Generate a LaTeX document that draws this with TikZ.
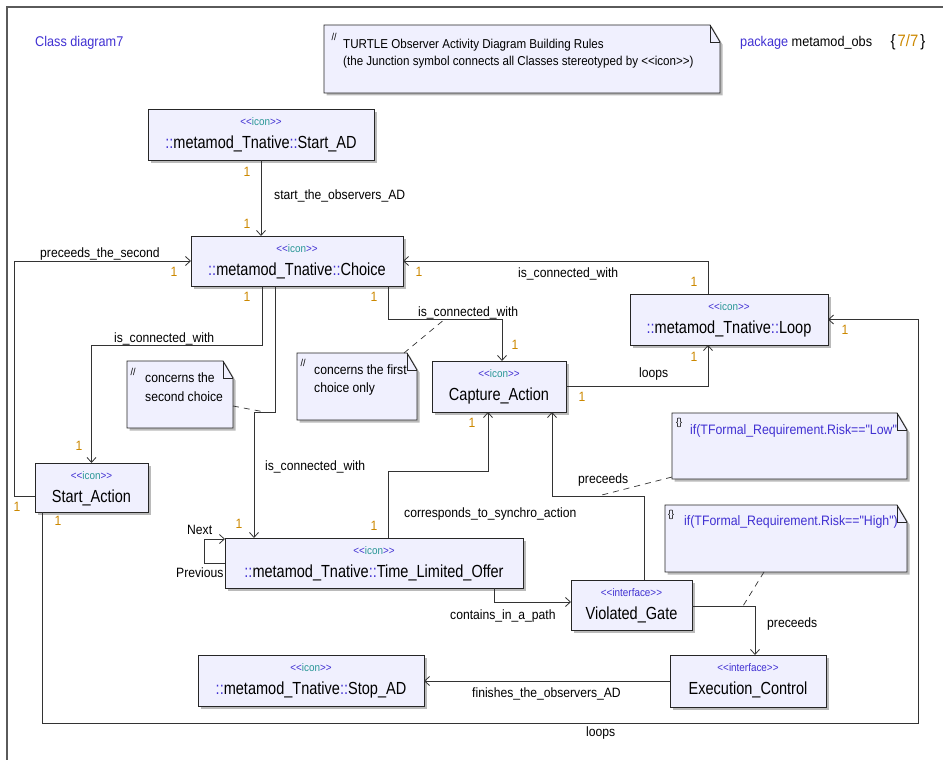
\documentclass[tikz,border=0pt]{standalone}
\usepackage{fontspec}
\setmainfont{Liberation Sans}
\newfontfamily\nf[FakeStretch=0.9]{Liberation Sans}
\newfontfamily\cnf[FakeStretch=0.83]{Liberation Sans}
\usetikzlibrary{arrows.meta,shadows,fit,calc}
\definecolor{boxfill}{RGB}{240,240,254}
\definecolor{umlblue}{RGB}{64,48,210}
\definecolor{umlteal}{RGB}{40,150,150}
\definecolor{multc}{RGB}{204,136,0}
\definecolor{framec}{RGB}{90,90,90}
\newcommand\stlt{<\kern0pt<}
\newcommand\stgt{>\kern0pt>}
\newcommand\stico{{\color{umlblue}\stlt}{\color{umlteal}icon}{\color{umlblue}\stgt}}
\newcommand\stiface{{\color{umlblue}\stlt interface\stgt}}
\newcommand\nsep{{\color{umlblue}::}}
\tikzset{
  shad/.style={drop shadow={shadow xshift=2.5pt,shadow yshift=-2.5pt,fill=black!45,opacity=0.6}},
  cls/.style={draw=black!85,line width=0.9pt,fill=boxfill,inner sep=0pt,outer sep=0pt,shad},
  stereo/.style={font=\nf\fontsize{11}{12}\selectfont,anchor=base,inner sep=0pt},
  clsname/.style={font=\cnf\fontsize{17.5}{19}\selectfont,anchor=base,inner sep=0pt},
  assoc/.style={draw=black!80,line width=0.8pt,-{Straight Barb[length=5pt,width=9pt]}},
  lbl/.style={font=\nf\fontsize{13.5}{15}\selectfont,anchor=base west,inner sep=0pt},
  mult/.style={font=\nf\fontsize{13.5}{15}\selectfont,text=multc,inner sep=0pt},
  note/.style={draw=black!85,line width=0.9pt,fill=boxfill,shad},
  notefold/.style={draw=black!85,line width=0.9pt},
  notetxt/.style={font=\nf\fontsize{13.5}{15}\selectfont,anchor=base west,inner sep=0pt},
  noteconst/.style={font=\nf\fontsize{13.7}{15}\selectfont,anchor=base west,inner sep=0pt,text=umlblue},
  notemark/.style={font=\nf\fontsize{10}{11}\selectfont,inner sep=0pt},
  anchorline/.style={draw=black!80,line width=0.7pt,dash pattern=on 6pt off 5pt},
  frameline/.style={draw=framec,line width=1.4pt}
}
\newcommand\umlclass[7]{%
  \coordinate (#1-a) at (#2,#3); \coordinate (#1-b) at (#4,#5);
  \node[cls,fit=(#1-a)(#1-b)] (#1) {};
  \node[stereo] (#1-st) at ([yshift=-16pt]#1.north) {#6};
  \node[clsname] (#1-nm) at ([yshift=-39pt]#1.north) {#7};
}
\newcommand\umlnote[5]{%
  \coordinate (#1-a) at (#2,#3); \coordinate (#1-b) at (#4,#5);
  \node[fit=(#1-a)(#1-b),inner sep=0pt,outer sep=0pt] (#1) {};
  \path[note] (#1.north west) -- ([xshift=-10pt]#1.north east) -- ([yshift=-17pt]#1.north east) -- (#1.south east) -- (#1.south west) -- cycle;
  \draw[notefold] ([xshift=-10pt]#1.north east) |- ([yshift=-17pt]#1.north east);
}
\begin{document}
\begin{tikzpicture}[x=1pt,y=-1pt]
\useasboundingbox (0,0) rectangle (943,760);
% frame
\coordinate (fr-tl) at (7,7);
\draw[frameline] (7,760) -- (fr-tl) -- (943,7);
\node[font=\nf\fontsize{14.1}{16}\selectfont,text=umlblue,anchor=base west,inner sep=0pt] (title) at (35,47) {Class diagram7};
\node[font=\nf\fontsize{14.1}{16}\selectfont,anchor=base west,inner sep=0pt] (pkg) at (740,47) {{\color{umlblue}package} metamod\_obs};
\node[font=\nf\fontsize{16.5}{18}\selectfont,anchor=base,inner sep=0pt] (pnum) at (908,47) {\{\hspace{2pt}{\color{multc}7/7}\hspace{2pt}\}};

% notes
\umlnote{topnote}{324}{25}{720}{93}
\node[notemark] (topnote-m) at (334,37) {//};
\node[notetxt,font=\nf\fontsize{12.9}{14}\selectfont] (topnote-t1) at (343,49) {TURTLE Observer Activity Diagram Building Rules};
\node[notetxt,font=\nf\fontsize{12.9}{14}\selectfont] (topnote-t2) at (343,66) {(the Junction symbol connects all Classes stereotyped by \stlt icon\stgt)};

\umlnote{note1}{297}{353}{417}{420}
\node[notemark] (note1-m) at (303,363) {//};
\node[notetxt] (note1-t1) at (314,374) {concerns the first};
\node[notetxt] (note1-t2) at (314,392) {choice only};

\umlnote{note2}{127}{361}{233}{428}
\node[notemark] (note2-m) at (133,372) {//};
\node[notetxt] (note2-t1) at (145,382) {concerns the};
\node[notetxt] (note2-t2) at (145,401) {second choice};

\umlnote{notelow}{672}{413}{907}{479}
\node[notemark] (notelow-m) at (679,423) {\{\}};
\node[noteconst] (notelow-t) at (690,434) {if(TFormal\_Requirement.Risk=="Low"};

\umlnote{notehigh}{665}{505}{907}{572}
\node[notemark] (notehigh-m) at (671,515) {\{\}};
\node[noteconst] (notehigh-t) at (684,525) {if(TFormal\_Requirement.Risk=="High")};

% classes
\umlclass{startad}{148}{109}{374}{160}{\stico}{\nsep metamod\_Tnative\nsep Start\_AD}
\umlclass{choice}{191}{236}{403}{286}{\stico}{\nsep metamod\_Tnative\nsep Choice}
\umlclass{loop}{630}{294}{828}{345}{\stico}{\nsep metamod\_Tnative\nsep Loop}
\umlclass{capture}{432}{361}{566}{412}{\stico}{Capture\_Action}
\umlclass{startact}{35}{463}{148}{512}{\stico}{Start\_Action}
\umlclass{tlo}{225}{538}{523}{588}{\stico}{\nsep metamod\_Tnative\nsep Time\_Limited\_Offer}
\umlclass{vgate}{571}{580}{692}{630}{\stiface}{Violated\_Gate}
\umlclass{exec}{670}{655}{826}{707}{\stiface}{Execution\_Control}
\umlclass{stopad}{198}{655}{424}{706}{\stico}{\nsep metamod\_Tnative\nsep Stop\_AD}

% bend coordinates
\coordinate (k5) at (254,412);
\coordinate (k6) at (502,319);
\coordinate (k8) at (918,723);
\coordinate (k9) at (488,471);
\coordinate (k11) at (552,496);

% connectors
\draw[assoc] (startad.south) -- (startad.south |- choice.north);
\draw[assoc] ([yshift=-8.5pt]startact.west) -| (14,261) -- (choice.west);
\draw[assoc] ([xshift=-21pt]loop.north) |- (choice.east);
\draw[assoc] ([xshift=-35pt]choice.south) |- ([yshift=118pt]startact.north) -- (startact.north);
\draw[assoc] ([xshift=-22pt]choice.south) |- (k5) -- (k5 |- tlo.north);
\draw[assoc] ([xshift=91pt]choice.south) |- (k6) -- (k6 |- capture.north);
\draw[assoc] (capture.east) -| ([xshift=-21pt]loop.south);
\draw[assoc] ([xshift=-49.5pt]startact.south) |- (k8) |- (loop.east);
\draw[assoc] ([xshift=14pt]tlo.north) |- (k9) -- (k9 |- capture.south);
\draw[assoc] (tlo.west) -- ++(-21,0) |- ([yshift=24pt]tlo.west);
\draw[assoc] ([xshift=12.5pt]vgate.north) |- (k11) -- (k11 |- capture.south);
\draw[assoc] ([xshift=120pt]tlo.south) |- ([yshift=3pt]vgate.west);
\draw[assoc] ([yshift=-1pt]vgate.east) -| ([xshift=7pt]exec.north);
\draw[assoc] (exec.west) -- (exec.west -| stopad.east);

% note anchors
\coordinate (d1) at (445,319);
\coordinate (d2) at (262,411.5);
\coordinate (d3) at (598,496);
\coordinate (d4) at (743,606);
\draw[anchorline] ([xshift=47pt]note1.north) -- (d1);
\draw[anchorline] ([yshift=-11.5pt]note2.east) -- (d2);
\draw[anchorline] ([yshift=2pt]notelow.south west) -- (d3);
\draw[anchorline] ([xshift=-22pt]notehigh.south) -- (d4);

% labels
\node[lbl] (l1) at (274,199) {start\_the\_observers\_AD};
\node[lbl] (l2) at (40,257) {preceeds\_the\_second};
\node[lbl] (l3) at (518,277) {is\_connected\_with};
\node[lbl] (l4) at (114,342) {is\_connected\_with};
\node[lbl] (l5) at (418,316) {is\_connected\_with};
\node[lbl] (l6) at (265,470) {is\_connected\_with};
\node[lbl] (l7) at (639,377) {loops};
\node[lbl] (l8) at (586,736) {loops};
\node[lbl] (l9) at (404,517) {corresponds\_to\_synchro\_action};
\node[lbl] (l10) at (578,483) {preceeds};
\node[lbl] (l11) at (450,619) {contains\_in\_a\_path};
\node[lbl] (l12) at (767,627) {preceeds};
\node[lbl] (l13) at (472,697) {finishes\_the\_observers\_AD};
\node[lbl] (l14) at (187,534) {Next};
\node[lbl] (l15) at (176,577) {Previous};

% multiplicities
\node[mult] (m1) at (247,172) {1};
\node[mult] (m2) at (247,224) {1};
\node[mult] (m3) at (174,272) {1};
\node[mult] (m4) at (419,272) {1};
\node[mult] (m5) at (247,297) {1};
\node[mult] (m6) at (374,297) {1};
\node[mult] (m7) at (694,282) {1};
\node[mult] (m8) at (515,345) {1};
\node[mult] (m9) at (694,357) {1};
\node[mult] (m10) at (582,397) {1};
\node[mult] (m11) at (845,330) {1};
\node[mult] (m12) at (79,446) {1};
\node[mult] (m13) at (17,507) {1};
\node[mult] (m14) at (58,521) {1};
\node[mult] (m15) at (239,524) {1};
\node[mult] (m16) at (374,526) {1};
\node[mult] (m17) at (472,423) {1};
\end{tikzpicture}
\end{document}
